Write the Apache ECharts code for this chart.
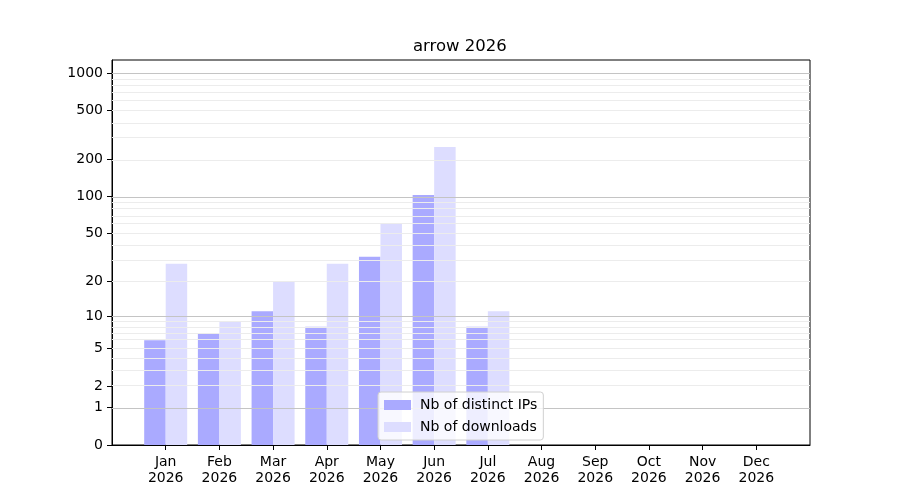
<!DOCTYPE html>
<html>
<head>
<meta charset="utf-8">
<script src="https://cdn.jsdelivr.net/npm/echarts@6/dist/echarts.min.js"></script>
<style>html,body{margin:0;padding:0;background:#fff}#c{width:900px;height:500px}</style>
</head>
<body>
<div id="c"></div>
<script>
var months = ['Jan','Feb','Mar','Apr','May','Jun','Jul','Aug','Sep','Oct','Nov','Dec'];
var year = '2026';
var ips = [6, 7, 11, 8, 32, 103, 8, null, null, null, null, null];
var downloads = [28, 9, 20, 28, 61, 253, 11, null, null, null, null, null];
var yTicks = [0, 1, 2, 5, 10, 20, 50, 100, 200, 500, 1000];
var majorGrid = [1, 10, 100, 1000];
var minorGrid = [2,3,4,5,6,7,8,9,20,30,40,50,60,70,80,90,200,300,400,500,600,700,800,900];

function tf(v){ return v == null ? null : Math.log10(v + 1); }
var FONT = 'DejaVu Sans';
var cats = [''].concat(months.map(function(m){ return m + '\n' + year; })).concat(['']);
function pad(arr){ return [null].concat(arr.map(tf)).concat([null]); }

var gridLines = majorGrid.map(function(v){
  return { yAxis: tf(v), lineStyle: { color: '#c4c4c4', width: 1, type: 'solid' } };
}).concat(minorGrid.map(function(v){
  return { yAxis: tf(v), lineStyle: { color: '#ececec', width: 1, type: 'solid' } };
}));

var chart = echarts.init(document.getElementById('c'), null, { renderer: 'canvas' });
chart.setOption({
  animation: false,
  backgroundColor: '#fff',
  title: {
    text: 'arrow ' + year,
    left: 413, top: 38, padding: 0,
    textStyle: { fontFamily: FONT, fontSize: 16.5, fontWeight: 'normal', color: '#000' }
  },
  grid: { left: 112, right: 90, top: 60, bottom: 55, show: true, borderColor: '#000', borderWidth: 1, backgroundColor: 'transparent' },
  legend: {
    z: 50, zlevel: 0,
    orient: 'vertical',
    left: 378, top: 392,
    padding: [5, 6, 5, 6],
    itemGap: 6,
    itemWidth: 27, itemHeight: 10,
    icon: 'rect',
    backgroundColor: 'rgba(255,255,255,0.8)',
    borderColor: '#d0d0d0', borderWidth: 1, borderRadius: 3,
    textStyle: { fontFamily: FONT, fontSize: 14, color: '#000', lineHeight: 16, padding: [0, 0, 0, 4] },
    data: ['Nb of distinct IPs', 'Nb of downloads']
  },
  xAxis: {
    type: 'category',
    boundaryGap: false,
    data: cats,
    axisLine: { show: true, lineStyle: { color: '#000' } },
    axisTick: { show: true, length: 5, lineStyle: { color: '#000' },
      interval: function(i){ return i > 0 && i < cats.length - 1; } },
    axisLabel: { interval: function(i){ return i > 0 && i < cats.length - 1; },
      margin: 9, fontFamily: FONT, fontSize: 14, color: '#000', lineHeight: 16 },
    splitLine: { show: false }
  },
  yAxis: {
    type: 'value',
    min: 0, max: 3.107,
    axisLine: { show: true, lineStyle: { color: '#000' } },
    axisTick: { show: true, length: 5, lineStyle: { color: '#000' }, customValues: yTicks.map(tf) },
    axisLabel: { customValues: yTicks.map(tf), margin: 9, fontFamily: FONT, fontSize: 14, color: '#000',
      formatter: function(v){ return String(Math.round(Math.pow(10, v) - 1)); } },
    splitLine: { show: false }
  },
  series: [
    {
      name: 'Nb of distinct IPs', type: 'bar', data: pad(ips), z: 2,
      barWidth: 21.5, barGap: '0%',
      itemStyle: { color: '#aaaaff' },
      markLine: { silent: true, symbol: 'none', label: { show: false }, data: gridLines, animation: false, z: 3 }
    },
    {
      name: 'Nb of downloads', type: 'bar', data: pad(downloads), z: 2,
      barWidth: 21.5, barGap: '0%',
      itemStyle: { color: '#ddddff' }
    }
  ]
});
</script>
</body>
</html>
